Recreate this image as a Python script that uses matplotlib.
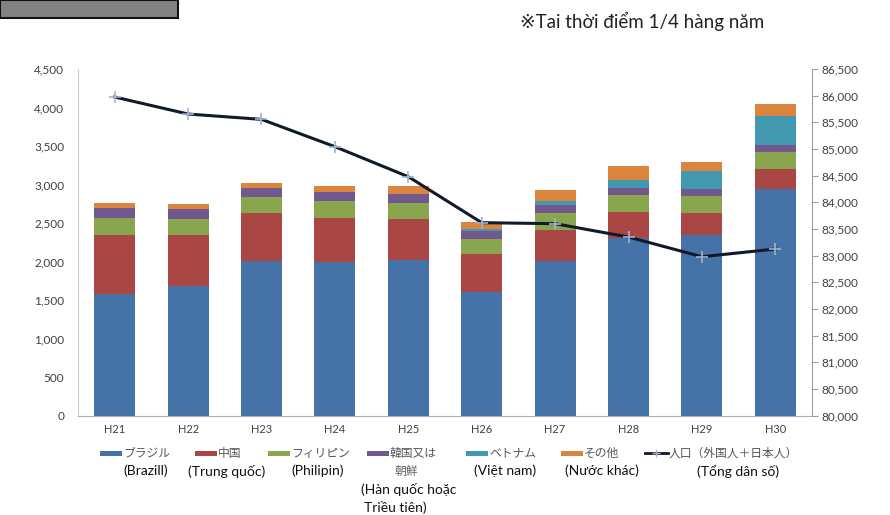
import matplotlib
matplotlib.use("Agg")
import matplotlib.pyplot as plt
from matplotlib.patches import Rectangle
from matplotlib.lines import Line2D
from matplotlib.ticker import FuncFormatter
import numpy as np

# Data
years = ['H21', 'H22', 'H23', 'H24', 'H25', 'H26', 'H27', 'H28', 'H29', 'H30']
brazil = [1584, 1679, 2012, 1995, 2016, 1605, 2012, 2302, 2345, 2938]
china = [757, 662, 615, 575, 537, 489, 398, 342, 290, 268]
philippines = [229, 212, 212, 217, 212, 204, 217, 216, 212, 221]
korea = [126, 126, 121, 121, 117, 99, 112, 91, 100, 91]
vietnam = [0, 0, 0, 0, 0, 22, 52, 113, 233, 372]
other = [69, 64, 65, 78, 95, 95, 138, 173, 109, 160]
population = [85975, 85656, 85556, 85044, 84481, 83619, 83600, 83350, 82981, 83125]

legend_jp = ['ブラジル', '中国', 'フィリピン', '韓国又は', 'ベトナム', 'その他', '人口（外国人＋日本人）']
legend_vi = ['(Brazill)', '(Trung quốc)', '(Philipin)', '朝鮮', '(Việt nam)', '(Nước khác)', '(Tổng dân số)']
korea_note = ['(Hàn quốc hoặc', 'Triều tiên)']
note = '※Tai thời điểm 1/4 hàng năm'

colors = ['#4572A7', '#AA4643', '#89A54E', '#71588F', '#4198AF', '#DB843D']
LINE_COLOR = '#111a2b'
MARKER_COLOR = '#9fb3d1'
TICK_COLOR = '#404040'
JP_FONT = ['Noto Sans CJK JP', 'DejaVu Sans']
VI_FONT = ['Lato', 'DejaVu Sans']

fig = plt.figure(figsize=(8.9, 5.15), dpi=100)
ax = fig.add_axes([0.0876, 0.1928, 0.8248, 0.6732])

x = np.arange(len(years))
series = [brazil, china, philippines, korea, vietnam, other]
bottom = np.zeros(len(years))
for vals, c in zip(series, colors):
    ax.bar(x, vals, width=0.56, bottom=bottom, color=c, zorder=2)
    bottom += np.array(vals)

ax.set_xlim(-0.5, len(years) - 0.5)
ax.set_ylim(0, 4500)
ax.set_yticks(np.arange(0, 4501, 500))
ax.set_xticks(x)
ax.set_xticklabels(years)
fmt = FuncFormatter(lambda v, p: f'{int(v):,}')
ax.yaxis.set_major_formatter(fmt)
ax.tick_params(axis='y', length=0, pad=10, labelsize=8.5, labelcolor=TICK_COLOR)
ax.tick_params(axis='x', length=0, pad=6, labelsize=8, labelcolor=TICK_COLOR)
for lab in ax.get_xticklabels() + ax.get_yticklabels():
    lab.set_family(VI_FONT)
ax.spines['top'].set_visible(False)
ax.spines['right'].set_visible(False)
ax.spines['left'].set_color('#d0d0d0')
ax.spines['bottom'].set_color('#b0b0b0')

ax2 = ax.twinx()
ax2.plot(x, population, color=LINE_COLOR, lw=2.2, zorder=3)
ax2.plot(x, population, ls='none', marker='+', ms=9, mew=1.2, color=MARKER_COLOR, zorder=4)
ax2.set_ylim(80000, 86500)
ax2.set_yticks(np.arange(80000, 86501, 500))
ax2.yaxis.set_major_formatter(fmt)
ax2.tick_params(axis='y', length=4, color='#a0a0a0', pad=3, labelsize=8.5, labelcolor=TICK_COLOR)
for lab in ax2.get_yticklabels():
    lab.set_family(VI_FONT)
ax2.spines['top'].set_visible(False)
ax2.spines['left'].set_visible(False)
ax2.spines['bottom'].set_visible(False)
ax2.spines['right'].set_color('#a0a0a0')

# top-left grey box and note
fig.patches.append(Rectangle((0, 1 - 18 / 515), 178 / 890, 18 / 515, transform=fig.transFigure,
                             facecolor='#828282', edgecolor='#111111', lw=1.5))
fig.text(520 / 890, 1 - 21 / 515, note, fontsize=13.5, family=VI_FONT, color='#222222',
         va='center', ha='left')

# legend (manual, to keep the two-language layout)
patch_x = [100, 195, 268, 367, 466, 561]
row1_y = 1 - 453 / 515
for i, px in enumerate(patch_x):
    fig.patches.append(Rectangle((px / 890, row1_y - 2.5 / 515), 22 / 890, 5 / 515,
                                 transform=fig.transFigure, facecolor=colors[i], edgecolor='none'))
    fig.text((px + 23) / 890, row1_y, legend_jp[i], fontsize=8.5, family=JP_FONT,
             color='#555555', va='center', ha='left')
fig.lines.append(Line2D([645 / 890, 668 / 890], [row1_y, row1_y], transform=fig.transFigure,
                        color=LINE_COLOR, lw=2))
fig.lines.append(Line2D([656 / 890], [row1_y], transform=fig.transFigure, marker='+',
                        ms=6, color=MARKER_COLOR))
fig.text(669 / 890, row1_y, legend_jp[6], fontsize=8.5, family=JP_FONT,
         color='#555555', va='center', ha='left')

row2_y = 1 - 471 / 515
vi_centers = [146, 227, 318, 406, 505, 602, 738]
for i, cx in enumerate(vi_centers):
    if i == 3:
        fig.text(cx / 890, row2_y, legend_vi[i], fontsize=8.5, family=JP_FONT,
                 color='#666666', va='center', ha='center')
    else:
        fig.text(cx / 890, row2_y, legend_vi[i], fontsize=10, family=VI_FONT,
                 color='#111111', va='center', ha='center')
fig.text(409 / 890, 1 - 489 / 515, korea_note[0], fontsize=10, family=VI_FONT,
         color='#111111', va='center', ha='center')
fig.text(395 / 890, 1 - 507 / 515, korea_note[1], fontsize=10, family=VI_FONT,
         color='#111111', va='center', ha='center')

fig.savefig('out.png', dpi=100)
